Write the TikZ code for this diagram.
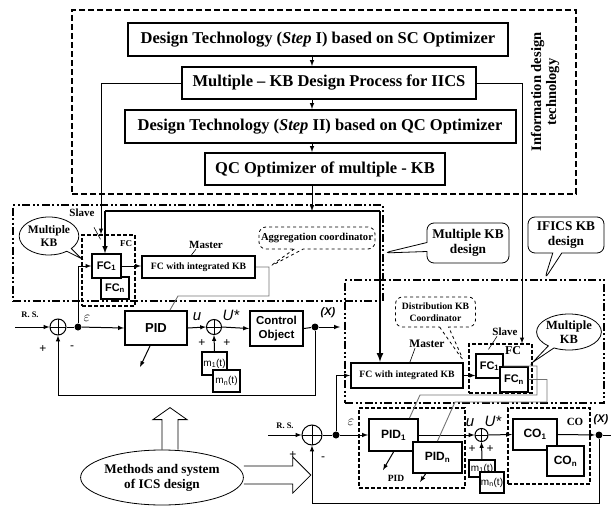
\documentclass[tikz,border=0pt]{standalone}
\usepackage{fontspec}
\setmainfont{Liberation Serif}
\setsansfont{Liberation Sans}
\usetikzlibrary{shapes.geometric,shapes.callouts}

\tikzset{
	techbox/.style={draw, line width=2pt, inner sep=0pt, font=\fontsize{16.5}{19}\selectfont\bfseries},
	fcbox/.style={draw, line width=1.4pt, fill=white, inner sep=0pt, font=\fontsize{11}{12}\selectfont\sffamily\bfseries},
	masterbox/.style={draw, line width=2.2pt, inner sep=0pt, font=\fontsize{9.7}{11}\selectfont\bfseries},
	ctrlbox/.style={draw, line width=2pt, fill=white, inner sep=0pt, align=center, font=\fontsize{12}{13}\selectfont\sffamily\bfseries},
	infozone/.style={draw, line width=1.1pt, dash pattern=on 6pt off 3pt, inner sep=0pt},
	zone/.style={draw, line width=1.2pt, dash pattern=on 8pt off 2.5pt on 2pt off 2.5pt on 2pt off 2.5pt, inner sep=0pt},
	grpzone/.style={draw, line width=1.3pt, dash pattern=on 4pt off 2pt, inner sep=0pt},
	summer/.style={draw, circle, line width=1pt, inner sep=0pt, path picture={
		\draw (path picture bounding box.north) -- (path picture bounding box.south)
		      (path picture bounding box.west) -- (path picture bounding box.east);}},
	junction/.style={circle, fill, inner sep=0pt, minimum size=7pt},
	mbox/.style={draw, line width=1.4pt, fill=white, inner sep=0pt, font=\fontsize{10}{11}\selectfont\sffamily},
	lbltext/.style={inner sep=0pt, font=\fontsize{11}{12}\selectfont\bfseries},
	sigtext/.style={inner sep=0pt, font=\fontsize{15}{16}\selectfont\sffamily\itshape},
	signtext/.style={inner sep=0pt, font=\fontsize{12}{12}\selectfont\sffamily},
	talkbox/.style={rectangle callout, draw, rounded corners=7pt, align=center, inner sep=0pt, line width=0.8pt, callout pointer width=9pt, font=\fontsize{13.3}{15}\selectfont\bfseries},
	kbbubble/.style={ellipse callout, draw, align=center, inner sep=0pt, line width=0.8pt, callout pointer arc=12, font=\fontsize{11.5}{13}\selectfont\bfseries},
	hollowline/.style={line width=0.8pt},
	kbfeed/.style={draw=black!55, line width=0.9pt}
}

\begin{document}
\begin{tikzpicture}[x=1pt, y=-1pt, >=latex, line width=1pt]
	\useasboundingbox (0,0) rectangle (611,506);

	% information design technology
	\node[infozone, minimum width=504pt, minimum height=184pt] (info) at (324,102) {};
	\node[techbox, minimum width=380pt, minimum height=33pt] (sc) at (318,39.5) {Design Technology (\textit{Step} I) based on SC Optimizer};
	\node[techbox, minimum width=294pt, minimum height=32pt] (kbproc) at (329,83) {Multiple – KB Design Process for IICS};
	\node[techbox, minimum width=391pt, minimum height=33pt] (qc2) at (320,126.5) {Design Technology (\textit{Step} II) based on QC Optimizer};
	\node[techbox, minimum width=240pt, minimum height=32pt] (qcopt) at (325,169) {QC Optimizer of multiple - KB};
	\node[rotate=90, align=center, font=\fontsize{14.5}{15}\selectfont\bfseries] (infolbl) at (545,92) {Information design\\technology};

	\coordinate (spine) at (312,0);
	\draw[->] (spine |- sc.south) -- (spine |- kbproc.north);
	\draw[->] (spine |- kbproc.south) -- (spine |- qc2.north);
	\draw[->] (spine |- qc2.south) -- (spine |- qcopt.north);

	% multiple KB design
	\node[zone, minimum width=370pt, minimum height=96pt] (mkbzone) at (198,253) {};
	\node[grpzone, minimum width=53pt, minimum height=71pt] (fczone) at (108.5,270.5) {};
	\node[fcbox, minimum width=28pt, minimum height=22pt] (fcn) at (115,288) {FC\textsubscript{n}};
	\node[fcbox, minimum width=29pt, minimum height=24pt] (fc1) at (106.5,266) {FC\textsubscript{1}};
	\node[lbltext, font=\fontsize{9}{10}\selectfont\bfseries] at (126,244) {FC};
	\node[lbltext] (slavel) at (82,213) {Slave};
	\draw[line width=0.6pt] ([xshift=12pt,yshift=-10pt]slavel.south) -- ([xshift=-8pt,yshift=-5pt]fczone.north);
	\node[kbbubble, minimum width=50pt, minimum height=38pt, callout absolute pointer={([yshift=12pt]fczone.west)}] (kbl) at (49,236) {Multiple\\KB};
	\node[masterbox, minimum width=113pt, minimum height=22pt] (masterl) at (198.5,267) {FC with integrated KB};
	\node[lbltext] (masterlbl) at (206,245) {Master};
	\draw[line width=0.6pt] ([xshift=-7pt]masterl.north) -- ([xshift=-10pt]masterlbl.south);

	\coordinate (busl) at (105,211);
	\coordinate (busr) at (380,211);
	\draw[->] (spine |- qcopt.south) -- (spine |- busl);
	\draw[line width=1.8pt] (busl) -- (busr);
	\draw[->, line width=1.5pt] (busl) -- (busl |- fc1.north);
	\draw[->] (kbproc.west) -| ([xshift=-7.5pt]fczone.north);

	% left control loop
	\node[lbltext, font=\fontsize{8.5}{9}\selectfont\bfseries] (rsl) at (30,315) {R. S.};
	\coordinate (rsinl) at (15,327);
	\node[summer, minimum size=16pt] (suml) at (58,327) {};
	\node[junction] (jctl) at (78,327) {};
	\node[ctrlbox, minimum width=62pt, minimum height=34pt, font=\fontsize{13}{14}\selectfont\sffamily\bfseries] (pidl) at (156,328) {PID};
	\node[summer, minimum size=15pt] (sumul) at (214,327) {};
	\node[ctrlbox, minimum width=53pt, minimum height=35pt, font=\fontsize{11.5}{13.5}\selectfont\sffamily\bfseries] (cobj) at (276.5,328.5) {Control\\Object};
	\node[junction] (outl) at (315,327) {};
	\coordinate (xl) at (340,327);
	\node[sigtext] at (87,318) {$\varepsilon$};
	\node[sigtext] at (197,317) {u};
	\node[sigtext] at (231,315) {U*};
	\node[sigtext, font=\fontsize{11}{12}\selectfont\sffamily\bfseries\itshape] at (328,313) {(X)};
	\node[mbox, minimum width=25pt, minimum height=23pt] (m1l) at (214.5,363.5) {m\textsubscript{1}(t)};
	\node[mbox, minimum width=27pt, minimum height=22pt] (mnl) at (226.5,381) {m\textsubscript{n}(t)};
	\coordinate (tunel) at (140,367);
	\coordinate (fbl) at (0,395);

	\draw[->] (rsinl) -- (suml.west);
	\draw (suml.east) -- (jctl);
	\draw[->] (jctl) -- (pidl.west);
	\draw[->] (jctl) |- (fc1.west);
	\draw[->] (fc1.east) -- (fc1.east -| masterl.west);
	\draw[->] (pidl.east) -- (sumul.west);
	\draw[->] (sumul.east) -- (cobj.west);
	\draw (cobj.east) -- (outl);
	\draw[->] (outl) -- (xl);
	\draw[->] (outl) -- (outl |- fbl) -| (suml.south);
	\draw[->] (m1l.north) -- (sumul.south);
	\draw[->] ([xshift=-6pt]pidl.south) -- (tunel);
	\node[signtext] at (43,349) {+};
	\node[signtext] at (72,348) {-};
	\node[signtext] at (202,343) {+};
	\node[signtext] at (227,343) {+};

	\coordinate (aggl) at (269,296);
	\coordinate (aggm) at (178,296);
	\draw[kbfeed] (masterl.east) -| (aggl) -- (aggm) -- ([xshift=14pt]pidl.north);
	\node[talkbox, dashed, minimum width=116pt, minimum height=22pt, font=\fontsize{10.6}{12}\selectfont\bfseries, callout absolute pointer={(aggl |- masterl.east)}] (aggr) at (317,238) {Aggregation coordinator};
	\node[talkbox, minimum width=82pt, minimum height=40pt, callout absolute pointer={(mkbzone.east)}] (mkblbl) at (468,243) {Multiple KB\\design};

	% IFICS KB design
	\node[zone, minimum width=259pt, minimum height=123pt] (ificszone) at (474.5,341.5) {};
	\node[talkbox, minimum width=76pt, minimum height=36pt, callout absolute pointer={([xshift=70pt]ificszone.north)}] (ificslbl) at (566,235) {IFICS KB\\design};
	\node[masterbox, minimum width=112pt, minimum height=25pt] (masterr) at (407,375.5) {FC with integrated KB};
	\node[talkbox, dashed, minimum width=80pt, minimum height=30pt, font=\fontsize{9.7}{12}\selectfont\bfseries, callout absolute pointer={(masterr.north east)}] (distr) at (435.5,312) {Distribution KB\\Coordinator};
	\node[lbltext, font=\fontsize{11.5}{12}\selectfont\bfseries] (masterrlbl) at (427,344) {Master};
	\draw[line width=0.6pt] ([xshift=-12pt]masterrlbl.south) -- ([xshift=3pt]masterr.north);
	\node[grpzone, minimum width=63pt, minimum height=49pt] (fczoner) at (500.5,368.5) {};
	\node[fcbox, minimum width=27pt, minimum height=24pt] (fc1r) at (489.5,366) {FC\textsubscript{1}};
	\node[fcbox, minimum width=28pt, minimum height=25pt] (fcnr) at (514,379.5) {FC\textsubscript{n}};
	\node[lbltext, font=\fontsize{12}{12}\selectfont\bfseries] at (513,351) {FC};
	\node[lbltext] (slaver) at (505,332) {Slave};
	\draw[line width=0.6pt] ([xshift=-8pt]slaver.south) -- ([xshift=-12pt,yshift=-6pt]fczoner.north);
	\node[kbbubble, minimum width=52pt, minimum height=36pt, font=\fontsize{12.5}{14}\selectfont\bfseries, callout absolute pointer={([yshift=-19pt]fczoner.north east)}] (kbr) at (569,332) {Multiple\\KB};

	\draw[->, line width=2pt] (busr) -- (busr |- masterr.north);
	\draw[->] (kbproc.east) -| ([xshift=21.5pt]fczoner.north);
	\draw[->] (masterr.east) -- (masterr.east -| fc1r.west);

	% right control loop
	\node[lbltext, font=\fontsize{8.5}{9}\selectfont\bfseries] (rsr) at (285,426) {R. S.};
	\coordinate (rsinr) at (268,435);
	\node[summer, minimum size=20pt] (sumr) at (312,435) {};
	\node[junction] (jctr) at (336,435) {};
	\node[sigtext] at (351,422) {$\varepsilon$};
	\node[grpzone, minimum width=106pt, minimum height=80pt] (pidzone) at (412,448) {};
	\node[ctrlbox, minimum width=49pt, minimum height=32pt] (pid1) at (393.5,435) {PID\textsubscript{1}};
	\node[ctrlbox, minimum width=49pt, minimum height=31pt] (pidn) at (437.5,457.5) {PID\textsubscript{n}};
	\node[lbltext, font=\fontsize{9.5}{10}\selectfont\bfseries] (pidlbl) at (396,478) {PID};
	\coordinate (tuner1) at (383,470);
	\coordinate (tunern) at (420,482);
	\node[summer, minimum size=13pt] (sumur) at (481.5,435) {};
	\node[sigtext] at (470,423) {u};
	\node[sigtext] at (493,421) {U*};
	\node[grpzone, minimum width=82pt, minimum height=76pt] (cozone) at (549,446) {};
	\node[ctrlbox, minimum width=44pt, minimum height=31pt] (co1) at (535,434.5) {CO\textsubscript{1}};
	\node[ctrlbox, minimum width=37pt, minimum height=30pt] (con) at (565.5,461) {CO\textsubscript{n}};
	\node[lbltext] at (575,422) {CO};
	\node[junction] (outr) at (599,435) {};
	\node[sigtext, font=\fontsize{11}{12}\selectfont\sffamily\bfseries\itshape] at (601,420) {(X)};
	\coordinate (xr) at (611,435);
	\node[mbox, minimum width=26pt, minimum height=17pt] (m1r) at (482,468.5) {m\textsubscript{1}(t)};
	\node[mbox, minimum width=24pt, minimum height=21pt] (mnr) at (492,482.5) {m\textsubscript{n}(t)};
	\coordinate (fbr) at (0,503);

	\draw[->] (rsinr) -- (sumr.west);
	\draw (sumr.east) -- (jctr);
	\draw[->] (jctr) -- (pid1.west);
	\draw[->] (jctr) |- (masterr.west);
	\draw[->] (pid1.east) -- (sumur.west);
	\draw[->] (sumur.east) -- (co1.west);
	\draw[->] (co1.east) -- (outr);
	\draw (outr) -- (xr);
	\draw[->] (outr) -- (outr |- fbr) -| (sumr.south);
	\draw[->] (m1r.north) -- (sumur.south);
	\draw[->] (pid1.south) -- (tuner1);
	\draw[->] ([xshift=-12pt]pidn.south) -- (tunern);
	\node[signtext] at (293,455) {+};
	\node[signtext] at (323,459) {-};
	\node[signtext] at (472,449) {+};
	\node[signtext] at (490,449) {+};

	\coordinate (feeda) at (537,395);
	\coordinate (feedab) at (420,395);
	\coordinate (feedb) at (547,402);
	\coordinate (feedbb) at (455,402);
	\draw[kbfeed] (fc1r.east) -| (feeda) -- (feedab) -- ([xshift=16pt]pid1.north);
	\draw[kbfeed] (fcnr.east) -| (feedb) -- (feedbb) -- (pidn.north);

	% methods and system
	\node[draw, ellipse, line width=0.8pt, inner sep=0pt, minimum width=148pt, minimum height=55pt, align=center, font=\fontsize{13.2}{15}\selectfont\bfseries] (methods) at (162,477.5) {Methods and system\\of ICS design};
	\draw[hollowline] (methods.north) -- ++(0,-30) -- ++(-9,0) -- ++(17,-12) -- ++(17,12) -- ++(-9,0) -- ++(0,30);
	\draw[hollowline] ([yshift=11.5pt]methods.east) -- ++(49,0) -- ++(0,-9) -- ++(18,18) -- ++(-18,18) -- ++(0,-9) -- ++(-49,0);
\end{tikzpicture}
\end{document}
